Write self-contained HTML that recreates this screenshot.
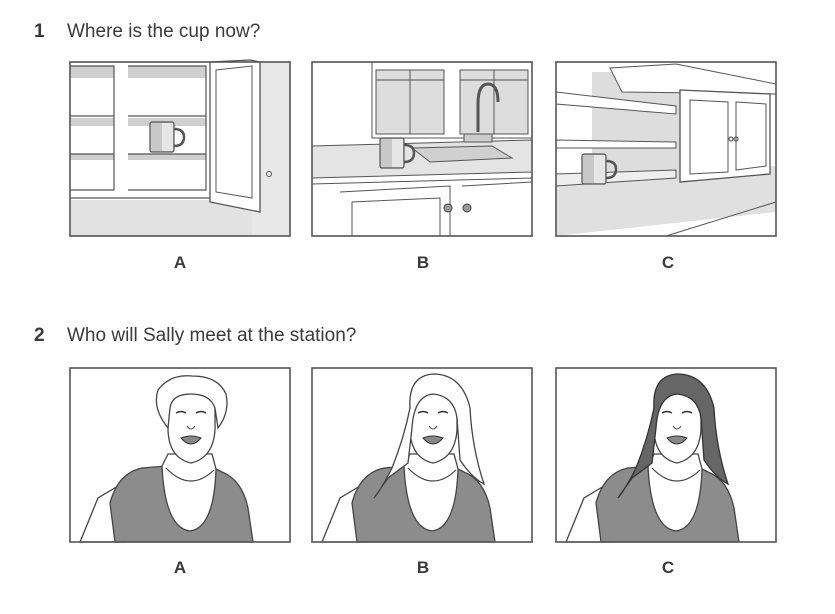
<!DOCTYPE html>
<html><head><meta charset="utf-8"><style>
html,body{margin:0;padding:0;background:#fff;}
svg{display:block}
text{font-family:"Liberation Sans",Arial,sans-serif;fill:#3a3a3a}
</style></head><body>
<svg width="835" height="614" viewBox="0 0 835 614" xmlns="http://www.w3.org/2000/svg">
<defs>
<g id="mug">
 <rect x="0" y="0" width="24" height="30" rx="2" fill="#c8c8c8" stroke="#555" stroke-width="1.2"/>
 <rect x="12" y="1" width="11" height="28" fill="#e6e6e6"/>
 <path d="M24 7 Q34 7 34 15 Q34 24 24 24" fill="none" stroke="#555" stroke-width="2.5"/>
</g>
<g id="person">
 <!-- back arm -->
 <path d="M10 174 L28 130 L48 118 L56 174 Z" fill="#fff" stroke="#444" stroke-width="1.3"/>
 <!-- shirt -->
 <path d="M45 174 L40 135 Q48 105 72 100 L96 98 Q120 115 142 99 L152 104 Q172 112 178 140 L183 174 Z" fill="#8c8c8c" stroke="#444" stroke-width="1.3"/>
 <!-- neck/chest -->
 <path d="M92 98 Q95 160 120 163 Q144 160 146 101 L142 86 L98 86 Z" fill="#fff" stroke="#444" stroke-width="1.3"/>
 <path d="M96 100 Q120 125 144 102" fill="none" stroke="#444" stroke-width="1.2"/>
 <!-- face -->
 <path d="M98 40 Q98 22 121 22 Q145 22 145 40 L145 62 Q143 90 121 95 Q99 90 98 62 Z" fill="#fff" stroke="#444" stroke-width="1.3"/>
 <path d="M106 45 Q111 42 116 45 M126 45 Q131 42 136 45" stroke="#333" stroke-width="1.6" fill="none"/>
 <path d="M117 58 Q121 64 125 58" stroke="#444" fill="none"/>
 <path d="M111 70 Q121 66 131 70 Q121 82 111 70 Z" fill="#888" stroke="#333"/>
</g>
</defs>

<text x="34" y="37" font-size="19" font-weight="bold">1</text>
<text x="67" y="37" font-size="19">Where is the cup now?</text>

<!-- 1A -->
<g transform="translate(70,62)">
 <rect x="0" y="0" width="220" height="174" fill="#fff"/>
 <rect x="0" y="138" width="220" height="36" fill="#e2e2e2"/>
 <rect x="182" y="0" width="38" height="174" fill="#e8e8e8"/>
 <rect x="0" y="4" width="44" height="12" fill="#d0d0d0"/>
 <rect x="58" y="4" width="78" height="12" fill="#d0d0d0"/>
 <rect x="0" y="56" width="44" height="8" fill="#d0d0d0"/>
 <rect x="58" y="56" width="78" height="8" fill="#d0d0d0"/>
 <rect x="0" y="92" width="44" height="6" fill="#d0d0d0"/>
 <rect x="58" y="92" width="78" height="6" fill="#d0d0d0"/>
 <path d="M0 4 H44 V128 H0 M58 4 H136 V128 H58 M0 54 H44 M58 54 H136 M0 92 H44 M58 92 H136 M0 136 H140" fill="none" stroke="#555" stroke-width="1.2"/>
 <path d="M140 0 L180 -2 L190 0 V150 L140 140 Z" fill="#fff" stroke="#555" stroke-width="1.3"/>
 <path d="M146 8 L182 4 V136 L146 130 Z" fill="none" stroke="#555"/>
 <g transform="translate(80,60)"><use href="#mug"/></g>
 <circle cx="199" cy="112" r="2.5" fill="none" stroke="#555"/>
</g>
<rect x="70" y="62" width="220" height="174" fill="none" stroke="#555" stroke-width="1.6"/>

<!-- 1B -->
<g transform="translate(312,62)">
 <rect x="0" y="0" width="220" height="174" fill="#fff"/>
 <rect x="60" y="0" width="160" height="76" fill="#fff" stroke="#555"/>
 <rect x="64" y="8" width="68" height="64" fill="#ddd" stroke="#555"/>
 <rect x="148" y="8" width="68" height="64" fill="#ddd" stroke="#555"/>
 <path d="M98 8 V72 M182 8 V72 M64 18 H132 M148 18 H216" stroke="#555"/>
 <path d="M0 84 L220 78 V110 L0 116 Z" fill="#e4e4e4" stroke="#555"/>
 <path d="M100 86 L180 84 L200 96 L118 100 Z" fill="#d0d0d0" stroke="#555"/>
 <path d="M166 70 V42 Q166 22 176 22 Q186 22 186 40" fill="none" stroke="#555" stroke-width="3"/>
 <rect x="152" y="72" width="28" height="8" fill="#ccc" stroke="#555"/>
 <path d="M0 122 L220 116 V174 H0 Z" fill="#fff" stroke="#555"/>
 <path d="M28 130 L138 124 V174 M150 124 L220 120 M40 140 L128 136 V174 M40 140 V174" fill="none" stroke="#555"/>
 <circle cx="136" cy="146" r="4" fill="#999" stroke="#444"/>
 <circle cx="155" cy="146" r="4" fill="#999" stroke="#444"/>
 <g transform="translate(68,76)"><use href="#mug"/></g>
</g>
<rect x="312" y="62" width="220" height="174" fill="none" stroke="#555" stroke-width="1.6"/>

<!-- 1C -->
<g transform="translate(556,62)">
 <rect x="0" y="0" width="220" height="174" fill="#fff"/>
 <path d="M0 120 L220 104 V150 L0 174 Z" fill="#e0e0e0"/>
 <rect x="36" y="10" width="90" height="108" fill="#ddd"/>
 <path d="M0 30 L120 44 V52 L0 42 Z M0 78 L120 80 V86 L0 86 Z" fill="#fff" stroke="#555"/>
 <path d="M0 112 L120 108 V116 L0 124 Z" fill="#eee" stroke="#555"/>
 <path d="M54 6 L120 2 L220 22 V32 L66 30 Z" fill="#fff" stroke="#555"/>
 <path d="M124 28 L214 32 V112 L124 120 Z" fill="#fff" stroke="#555" stroke-width="1.3"/>
 <path d="M134 38 L172 40 V110 L134 112 Z M180 40 L210 42 V104 L180 108 Z" fill="none" stroke="#555"/>
 <circle cx="175" cy="77" r="2" fill="none" stroke="#444"/><circle cx="180" cy="77" r="2" fill="none" stroke="#444"/>
 <path d="M110 174 L220 140" stroke="#555"/>
 <g transform="translate(26,92)"><use href="#mug"/></g>
</g>
<rect x="556" y="62" width="220" height="174" fill="none" stroke="#555" stroke-width="1.6"/>

<text x="180" y="268" font-size="17" font-weight="bold" text-anchor="middle">A</text>
<text x="423" y="268" font-size="17" font-weight="bold" text-anchor="middle">B</text>
<text x="668" y="268" font-size="17" font-weight="bold" text-anchor="middle">C</text>

<text x="34" y="341" font-size="19" font-weight="bold">2</text>
<text x="67" y="341" font-size="19">Who will Sally meet at the station?</text>

<!-- 2A -->
<g transform="translate(70,368)">
 <rect width="220" height="174" fill="#fff"/>
 <use href="#person"/>
 <path d="M98 60 Q82 40 88 22 Q100 6 122 8 Q148 8 156 26 Q160 44 148 60 L145 40 Q140 26 121 26 Q102 26 100 40 Z" fill="#fff" stroke="#444" stroke-width="1.3"/>
</g>
<rect x="70" y="368" width="220" height="174" fill="none" stroke="#555" stroke-width="1.6"/>

<!-- 2B -->
<g transform="translate(312,368)">
 <rect width="220" height="174" fill="#fff"/>
 <use href="#person"/>
 <path d="M98 40 Q92 70 80 100 Q70 120 62 130 L76 110 L96 95 L100 60 Q102 28 121 26 Q142 28 145 50 L148 92 Q160 110 172 116 Q160 80 158 40 Q150 6 121 6 Q96 8 98 40 Z" fill="#fff" stroke="#444" stroke-width="1.3"/>
</g>
<rect x="312" y="368" width="220" height="174" fill="none" stroke="#555" stroke-width="1.6"/>

<!-- 2C -->
<g transform="translate(556,368)">
 <rect width="220" height="174" fill="#fff"/>
 <use href="#person"/>
 <path d="M98 40 Q92 70 80 100 Q70 120 62 130 L76 110 L96 95 L100 60 Q102 28 121 26 Q142 28 145 50 L148 92 Q160 110 172 116 Q160 80 158 40 Q150 6 121 6 Q96 8 98 40 Z" fill="#666" stroke="#333" stroke-width="1.3"/>
</g>
<rect x="556" y="368" width="220" height="174" fill="none" stroke="#555" stroke-width="1.6"/>

<text x="180" y="573" font-size="17" font-weight="bold" text-anchor="middle">A</text>
<text x="423" y="573" font-size="17" font-weight="bold" text-anchor="middle">B</text>
<text x="668" y="573" font-size="17" font-weight="bold" text-anchor="middle">C</text>
</svg>
</body></html>
